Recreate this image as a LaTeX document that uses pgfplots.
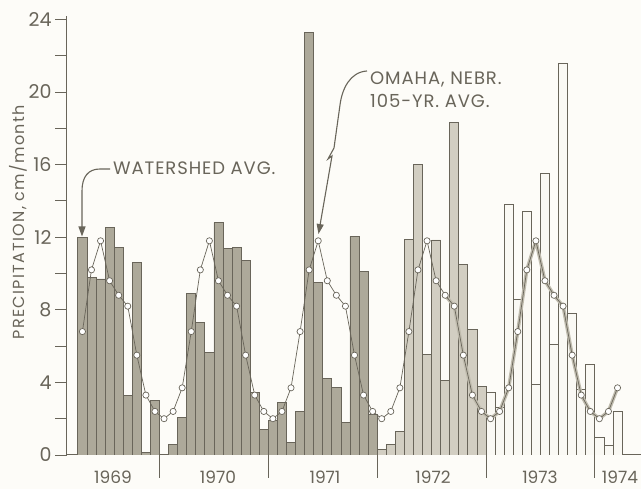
\documentclass[border=0pt]{standalone}
\usepackage{pgfplots}
\usepackage{pgfplotstable}
\pgfplotsset{compat=1.18}
\usepackage{fontspec}
\setmainfont{Poppins}
\newfontfamily\annfont[LetterSpace=5]{Poppins}
\newfontfamily\ylabfont[LetterSpace=8]{Poppins}
\usetikzlibrary{arrows.meta}
\definecolor{bg}{RGB}{253,252,248}
\definecolor{ink}{RGB}{105,101,90}
\definecolor{barA}{RGB}{173,169,154}
\definecolor{barB}{RGB}{210,206,194}
\definecolor{barC}{RGB}{250,249,244}
\definecolor{band}{RGB}{192,188,174}

% watershed average precipitation, cm/month (x = month index + 0.5, Apr 1969 = 0)
\pgfplotstableread{
x v
0.5 12.0
1.5 9.8
2.5 9.7
3.5 12.55
4.5 11.45
5.5 3.3
6.5 10.6
7.5 0.15
8.5 3.0
10.5 0.6
11.5 2.05
12.5 8.9
13.5 7.3
14.5 5.65
15.5 12.8
16.5 11.4
17.5 11.45
18.5 10.7
19.5 3.45
20.5 1.4
21.5 1.9
22.5 2.9
23.5 0.7
24.5 2.4
25.5 23.3
26.5 9.5
27.5 4.2
28.5 3.7
29.5 1.8
30.5 12.05
31.5 10.1
32.5 2.25
}\dataA
\pgfplotstableread{
x v
33.5 0.3
34.5 0.6
35.5 1.3
36.5 11.9
37.5 16.0
38.5 5.55
39.5 11.85
40.5 4.1
41.5 18.3
42.5 10.5
43.5 6.9
44.5 3.8
}\dataB
\pgfplotstableread{
x v
45.5 3.45
46.5 2.6
47.5 13.8
48.5 8.6
49.5 13.4
50.5 3.9
51.5 15.5
52.5 6.1
53.5 21.6
54.5 7.8
55.5 3.6
56.5 5.0
57.5 0.95
58.5 0.55
59.5 2.4
}\dataC
% Omaha, Nebr. 105-yr average
\pgfplotstableread{
x v
0.5 6.8
1.5 10.2
2.5 11.8
3.5 9.6
4.5 8.8
5.5 8.2
6.5 5.5
7.5 3.3
8.5 2.4
9.5 2.0
10.5 2.4
11.5 3.7
12.5 6.8
13.5 10.2
14.5 11.8
15.5 9.6
16.5 8.8
17.5 8.2
18.5 5.5
19.5 3.3
20.5 2.4
21.5 2.0
22.5 2.4
23.5 3.7
24.5 6.8
25.5 10.2
26.5 11.8
27.5 9.6
28.5 8.8
29.5 8.2
30.5 5.5
31.5 3.3
32.5 2.4
33.5 2.0
34.5 2.4
35.5 3.7
36.5 6.8
37.5 10.2
38.5 11.8
39.5 9.6
40.5 8.8
41.5 8.2
42.5 5.5
43.5 3.3
44.5 2.4
45.5 2.0
46.5 2.4
47.5 3.7
48.5 6.8
49.5 10.2
50.5 11.8
51.5 9.6
52.5 8.8
53.5 8.2
54.5 5.5
55.5 3.3
56.5 2.4
57.5 2.0
58.5 2.4
59.5 3.7
}\omaha
\pgfplotstableread{
x v
40.5 8.8
41.5 8.2
42.5 5.5
43.5 3.3
44.5 2.4
45.5 2.0
46.5 2.4
47.5 3.7
48.5 6.8
49.5 10.2
50.5 11.8
51.5 9.6
52.5 8.8
53.5 8.2
54.5 5.5
55.5 3.3
56.5 2.4
57.5 2.0
58.5 2.4
59.5 3.7
}\omahaband

\begin{document}
\begin{tikzpicture}[x=1pt,y=1pt]
\fill[bg] (0,0) rectangle (641,489);
\useasboundingbox (0,0) rectangle (641,489);
\begin{axis}[
  at={(67pt,34pt)}, anchor=south west,
  scale only axis, width=574.1pt, height=439.23pt,
  xmin=-1.2, xmax=62.1, ymin=0, ymax=24.2,
  axis lines*=left,
  axis line style={ink, line width=1pt},
  tick align=outside,
  tick style={ink, line width=0.9pt},
  major tick length=12pt, minor tick length=12pt,
  xtick=\empty,
  minor xtick={0,1,...,62},
  extra x ticks={9,21,33,45,57},
  extra x tick labels={},
  extra x tick style={major tick length=23pt},
  ytick={0,4,...,24},
  minor ytick={2,6,...,22},
  /pgf/number format/assume math mode=true,
  yticklabel style={font=\fontsize{19}{19}\selectfont, text=ink},
  ylabel={PRECIPITATION, cm/month},
  every axis y label/.style={at={(axis description cs:-0.0854,0.53)}, rotate=90, anchor=center},
  ylabel style={font=\ylabfont\fontsize{16}{16}\selectfont, text=ink},
]
\addplot[ybar, bar width=1, bar shift=0pt, fill=barA, draw=ink, line width=0.8pt] table[x=x,y=v] {\dataA};
\addplot[ybar, bar width=1, bar shift=0pt, fill=barB, draw=ink, line width=0.8pt] table[x=x,y=v] {\dataB};
\addplot[ybar, bar width=1, bar shift=0pt, fill=barC, draw=ink, line width=0.8pt] table[x=x,y=v] {\dataC};
\addplot[band, line width=3.5pt, line join=round, no marks] table[x=x,y=v] {\omahaband};
\addplot[ink, line width=0.7pt, mark=*, mark size=3.1pt, mark options={fill=white, draw=ink, line width=0.7pt}] table[x=x,y=v] {\omaha};
\end{axis}
% annotations
\draw[ink, line width=1.1pt, -{Triangle[length=10pt,width=7pt]}] (110,320) -- (100,320) .. controls (88,320) and (82,312) .. (82,298) -- (82,252.5);
\node[anchor=base west, inner sep=0pt, font=\annfont\fontsize{18}{18}\selectfont, text=ink] at (113,314) {WATERSHED AVG.};
\draw[ink, line width=1.1pt, -{Triangle[length=10pt,width=7pt]}] (367,418) .. controls (350,417) and (342,400) .. (340,384) -- (334,341) -- (328,330) -- (332,333) -- (318.5,255);
\node[anchor=base west, inner sep=0pt, font=\annfont\fontsize{18}{18}\selectfont, text=ink] at (370,404) {OMAHA, NEBR.};
\node[anchor=base west, inner sep=0pt, font=\annfont\fontsize{18}{18}\selectfont, text=ink] at (370,381) {105-YR. AVG.};
\node[anchor=base, inner sep=0pt, font=\fontsize{17}{17}\selectfont, text=ink] at (113,5) {1969};
\node[anchor=base, inner sep=0pt, font=\fontsize{17}{17}\selectfont, text=ink] at (218,5) {1970};
\node[anchor=base, inner sep=0pt, font=\fontsize{17}{17}\selectfont, text=ink] at (325,5) {1971};
\node[anchor=base, inner sep=0pt, font=\fontsize{17}{17}\selectfont, text=ink] at (433,5) {1972};
\node[anchor=base, inner sep=0pt, font=\fontsize{17}{17}\selectfont, text=ink] at (540,5) {1973};
\node[anchor=base, inner sep=0pt, font=\fontsize{17}{17}\selectfont, text=ink] at (620,5) {1974};
\end{tikzpicture}
\end{document}
